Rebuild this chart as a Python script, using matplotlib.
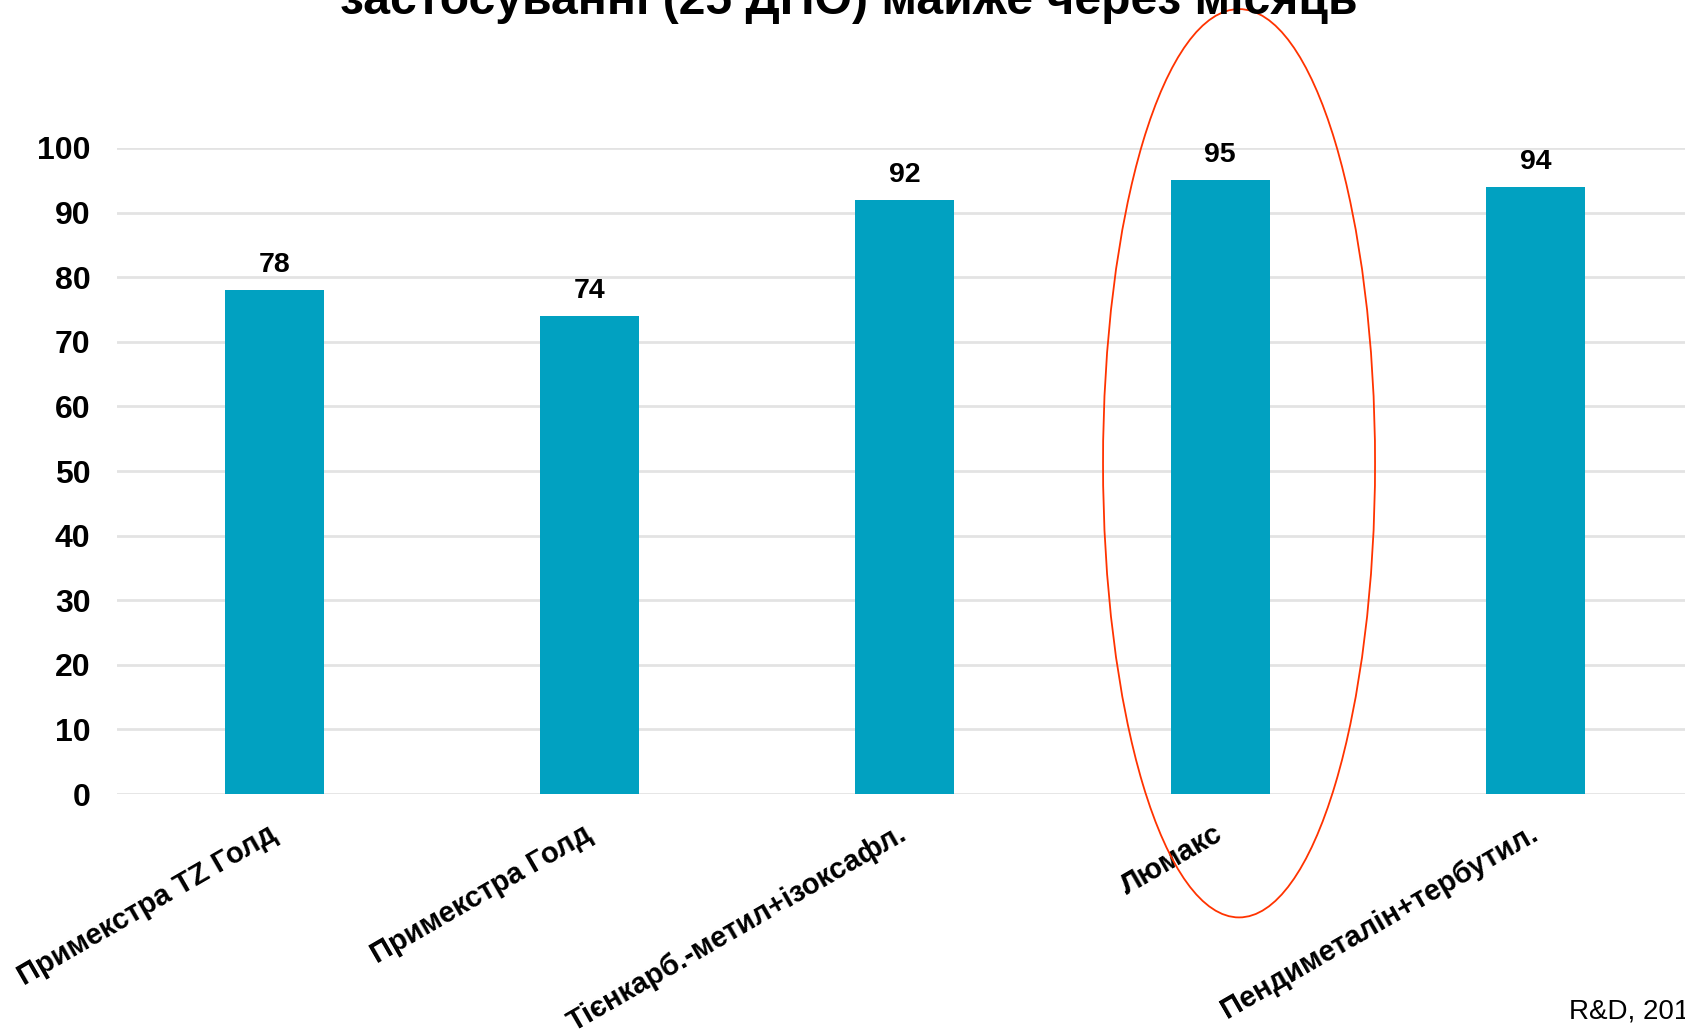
import matplotlib
matplotlib.use("Agg")
import matplotlib.pyplot as plt
from matplotlib.patches import Ellipse

plt.rcParams["font.family"] = ["Liberation Sans", "DejaVu Sans"]

products = [
    "Примекстра TZ Голд",
    "Примекстра Голд",
    "Тієнкарб.-метил+ізоксафл.",
    "Люмакс",
    "Пендиметалін+тербутил.",
]
efficacy = [78, 74, 92, 95, 94]
yticks = [0, 10, 20, 30, 40, 50, 60, 70, 80, 90, 100]

title = "застосуванні (25 ДНО) майже через місяць"
source = "R&D, 2019"

fig = plt.figure(figsize=(16.85, 10.32), dpi=100)
ax = fig.add_axes([0.0694, 0.2306, 0.9353, 0.626])

x = list(range(len(products)))
bars = ax.bar(x, efficacy, width=0.314, color="#01A1C1", zorder=3)

for rect, v in zip(bars, efficacy):
    ax.annotate(str(v), (rect.get_x() + rect.get_width() / 2, v),
                xytext=(0, 13), textcoords="offset points",
                ha="center", va="baseline", fontsize=20.5, fontweight="bold")

ax.set_xlim(-0.5, len(products) - 0.5)
ax.set_ylim(0, 100)
ax.set_yticks(yticks)
ax.set_yticklabels([str(t) for t in yticks], fontsize=23, fontweight="bold")
ax.yaxis.grid(True, color="#e3e3e3", linewidth=2, zorder=0)
ax.set_axisbelow(True)
ax.tick_params(axis="y", length=0, pad=19)
ax.tick_params(axis="x", length=0, pad=27)
ax.set_xticks(x)
ax.set_xticklabels(products, fontsize=21, fontweight="bold", rotation=30,
                   ha="right", va="center", rotation_mode="anchor")
for s in ax.spines.values():
    s.set_visible(False)

# red ellipse around Lumax
ell = Ellipse((3.06, 51.2), 0.863, 140.6, fill=False, edgecolor="#FF3300",
              linewidth=1.3, clip_on=False, zorder=5)
ax.add_patch(ell)

fig.text(0.504, 1 - 14 / 1032, title, ha="center", va="baseline",
         fontsize=34.7, fontweight="bold")
fig.text(1569 / 1685, 1 - 1018 / 1032, source, ha="left", va="baseline",
         fontsize=20)

fig.savefig("out.png", dpi=100)
